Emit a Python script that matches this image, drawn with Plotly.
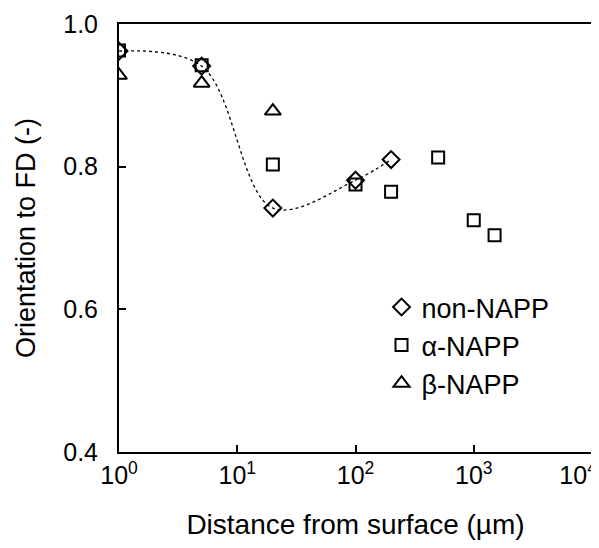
import plotly.graph_objects as go

# Data
x_non = [1, 5, 20, 100, 200]
y_non = [0.962, 0.941, 0.742, 0.781, 0.810]
x_alpha = [1, 5, 20, 100, 200, 500, 1000, 1500]
y_alpha = [0.963, 0.942, 0.803, 0.775, 0.765, 0.813, 0.725, 0.704]
x_beta = [1, 5, 20]
y_beta = [0.928, 0.917, 0.878]
names = ["non-NAPP", "α-NAPP", "β-NAPP"]
x_tickvals = [1, 10, 100, 1000, 10000]
# last label padded on the right so it stays inside the page, as in the original
x_ticktext = ["10<sup>0</sup>", "10<sup>1</sup>", "10<sup>2</sup>", "10<sup>3</sup>",
              "10<sup>4</sup>\u00a0\u00a0\u00a0\u00a0"]
y_tickvals = [0.4, 0.6, 0.8, 1.0]
y_ticktext = ["0.4", "0.6", "0.8", "1.0"]

FONT = "Liberation Sans, Arial, sans-serif"

fig = go.Figure()
# dotted smooth trend through non-NAPP
fig.add_trace(go.Scatter(x=x_non, y=y_non, mode="lines",
                         line=dict(color="black", width=1.3, dash="dot", shape="spline", smoothing=1.0),
                         showlegend=False, hoverinfo="skip"))
fig.add_trace(go.Scatter(x=x_non, y=y_non, mode="markers", name=names[0],
                         marker=dict(symbol="diamond-open", size=13, color="black", line=dict(width=2, color="black"))))
fig.add_trace(go.Scatter(x=x_alpha, y=y_alpha, mode="markers", name=names[1],
                         marker=dict(symbol="square-open", size=12, color="black", line=dict(width=2, color="black"))))
fig.add_trace(go.Scatter(x=x_beta, y=y_beta, mode="markers", name=names[2],
                         marker=dict(symbol="triangle-up-open", size=14, color="black", line=dict(width=2, color="black"))))

# The page adds an 8px body margin, so the figure is smaller and margins shifted
fig.update_layout(
    width=591, height=532,
    margin=dict(l=111, r=7, t=16, b=88),
    paper_bgcolor="white", plot_bgcolor="white",
    font=dict(family=FONT, size=25, color="black"),
    legend=dict(x=0.555, y=0.395, xanchor="left", yanchor="top", font=dict(size=27, family=FONT),
                bgcolor="rgba(0,0,0,0)", tracegroupgap=0, itemwidth=30),
    xaxis=dict(type="log", range=[0, 4], tickvals=x_tickvals, ticktext=x_ticktext, automargin=False,
               showline=True, linecolor="black", linewidth=2, mirror=True, showgrid=False, zeroline=False,
               ticks="inside", ticklen=7, tickwidth=1.5, tickcolor="black", ticklabelstandoff=0,
               ticklabeloverflow="allow",
               tickfont=dict(size=25, family=FONT),
               title=dict(text="Distance from surface (µm)", font=dict(size=28, family=FONT), standoff=28)),
    yaxis=dict(range=[0.4, 1.0], tickvals=y_tickvals, ticktext=y_ticktext, automargin=False,
               showline=True, linecolor="black", linewidth=2, mirror=True, showgrid=False, zeroline=False,
               ticks="inside", ticklen=7, tickwidth=1.5, tickcolor="black", ticklabelstandoff=14,
               ticklabeloverflow="allow",
               tickfont=dict(size=25, family=FONT),
               title=dict(text="Orientation to FD (-)", font=dict(size=27, family=FONT), standoff=20)),
)

fig.write_html("out.html")
